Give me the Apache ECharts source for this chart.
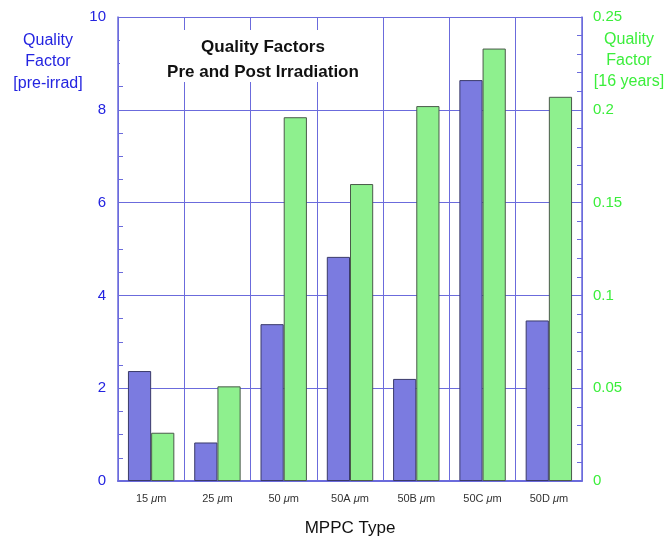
<!DOCTYPE html>
<html>
<head>
<meta charset="utf-8">
<script src="https://cdn.jsdelivr.net/npm/echarts@6/dist/echarts.min.js"></script>
<style>
  html, body { margin: 0; padding: 0; background: #fff; }
  #chart { width: 669px; height: 540px; }
</style>
</head>
<body>
<div id="chart"></div>
<script>
// MPPC types and their quality factors
const categories = ['15', '25', '50', '50A', '50B', '50C', '50D'];
const preIrrad = [2.37, 0.83, 3.38, 4.83, 2.20, 8.64, 3.46];      // left axis
const after16Years = [0.026, 0.051, 0.196, 0.160, 0.202, 0.233, 0.207]; // right axis

const BLUE_TEXT = '#2323e0';
const GREEN_TEXT = '#3bee3b';
const AXIS_BLUE = '#6b6bdc';
const FONT = 'Liberation Sans, Arial, sans-serif';

const chart = echarts.init(document.getElementById('chart'), null, { renderer: 'canvas' });

chart.setOption({
  animation: false,
  backgroundColor: '#fff',
  grid: {
    left: 118, right: 87, top: 17, bottom: 59,
    containLabel: false, outerBoundsMode: 'none'
  },
  xAxis: {
    type: 'category',
    data: categories,
    boundaryGap: true,
    name: 'MPPC Type',
    nameLocation: 'middle',
    nameGap: 39,
    nameTextStyle: { color: '#111', fontSize: 17, fontFamily: FONT },
    axisLine: { show: true, lineStyle: { color: AXIS_BLUE, width: 2 } },
    axisTick: { show: false, interval: 0 },
    splitLine: { show: true, interval: 0, lineStyle: { color: AXIS_BLUE, width: 1 } },
    axisLabel: {
      interval: 0,
      margin: 12,
      formatter: v => `{n|${v} }{u|\u03bc}{n|m}`,
      rich: {
        n: { fontSize: 11, color: '#333', fontFamily: FONT },
        u: { fontSize: 11, color: '#333', fontFamily: FONT, fontStyle: 'italic' }
      }
    }
  },
  yAxis: [
    {
      type: 'value',
      min: 0, max: 10, interval: 2,
      axisLine: { show: true, lineStyle: { color: AXIS_BLUE, width: 1.5 } },
      axisTick: { show: true, inside: true, length: 5, lineStyle: { color: AXIS_BLUE } },
      minorTick: { show: true, splitNumber: 4, length: 5, lineStyle: { color: AXIS_BLUE } },
      splitLine: { show: true, lineStyle: { color: AXIS_BLUE, width: 1 } },
      axisLabel: { color: BLUE_TEXT, fontSize: 15, margin: 12, fontFamily: FONT }
    },
    {
      type: 'value',
      position: 'right',
      min: 0, max: 0.25, interval: 0.05,
      axisLine: { show: true, lineStyle: { color: AXIS_BLUE, width: 1.5 } },
      axisTick: { show: true, inside: true, length: 5, lineStyle: { color: AXIS_BLUE } },
      minorTick: { show: true, splitNumber: 5, length: 5, lineStyle: { color: AXIS_BLUE } },
      splitLine: { show: false },
      axisLabel: {
        color: GREEN_TEXT, fontSize: 15, margin: 11, fontFamily: FONT,
        formatter: v => String(+v.toFixed(2))
      }
    }
  ],
  series: [
    {
      name: 'pre-irrad',
      type: 'bar',
      yAxisIndex: 0,
      data: preIrrad,
      barWidth: '35%',
      barGap: '0%',
      itemStyle: { color: '#7b7be0', borderColor: '#3a3a6a', borderWidth: 1 }
    },
    {
      name: '16 years',
      type: 'bar',
      yAxisIndex: 1,
      data: after16Years,
      barWidth: '35%',
      barGap: '0%',
      itemStyle: { color: '#8ef08e', borderColor: '#4a5a4a', borderWidth: 1 }
    }
  ],
  graphic: [
    {
      type: 'rect', z: 50,
      shape: { x: 120, y: 30, width: 258, height: 52 },
      style: { fill: '#fff' }
    },
    {
      type: 'text', z: 51, x: 263, y: 60,
      style: {
        text: 'Quality Factors\nPre and Post Irradiation',
        fill: '#111', font: 'bold 17px ' + FONT,
        textAlign: 'center', textVerticalAlign: 'middle', lineHeight: 25
      }
    },
    {
      type: 'text', z: 51, x: 48, y: 62,
      style: {
        text: 'Quality\nFactor\n[pre-irrad]',
        fill: BLUE_TEXT, font: '16px ' + FONT,
        textAlign: 'center', textVerticalAlign: 'middle', lineHeight: 21.5
      }
    },
    {
      type: 'text', z: 51, x: 629, y: 61,
      style: {
        text: 'Quality\nFactor\n[16 years]',
        fill: GREEN_TEXT, font: '16px ' + FONT,
        textAlign: 'center', textVerticalAlign: 'middle', lineHeight: 21
      }
    }
  ]
});
</script>
</body>
</html>
